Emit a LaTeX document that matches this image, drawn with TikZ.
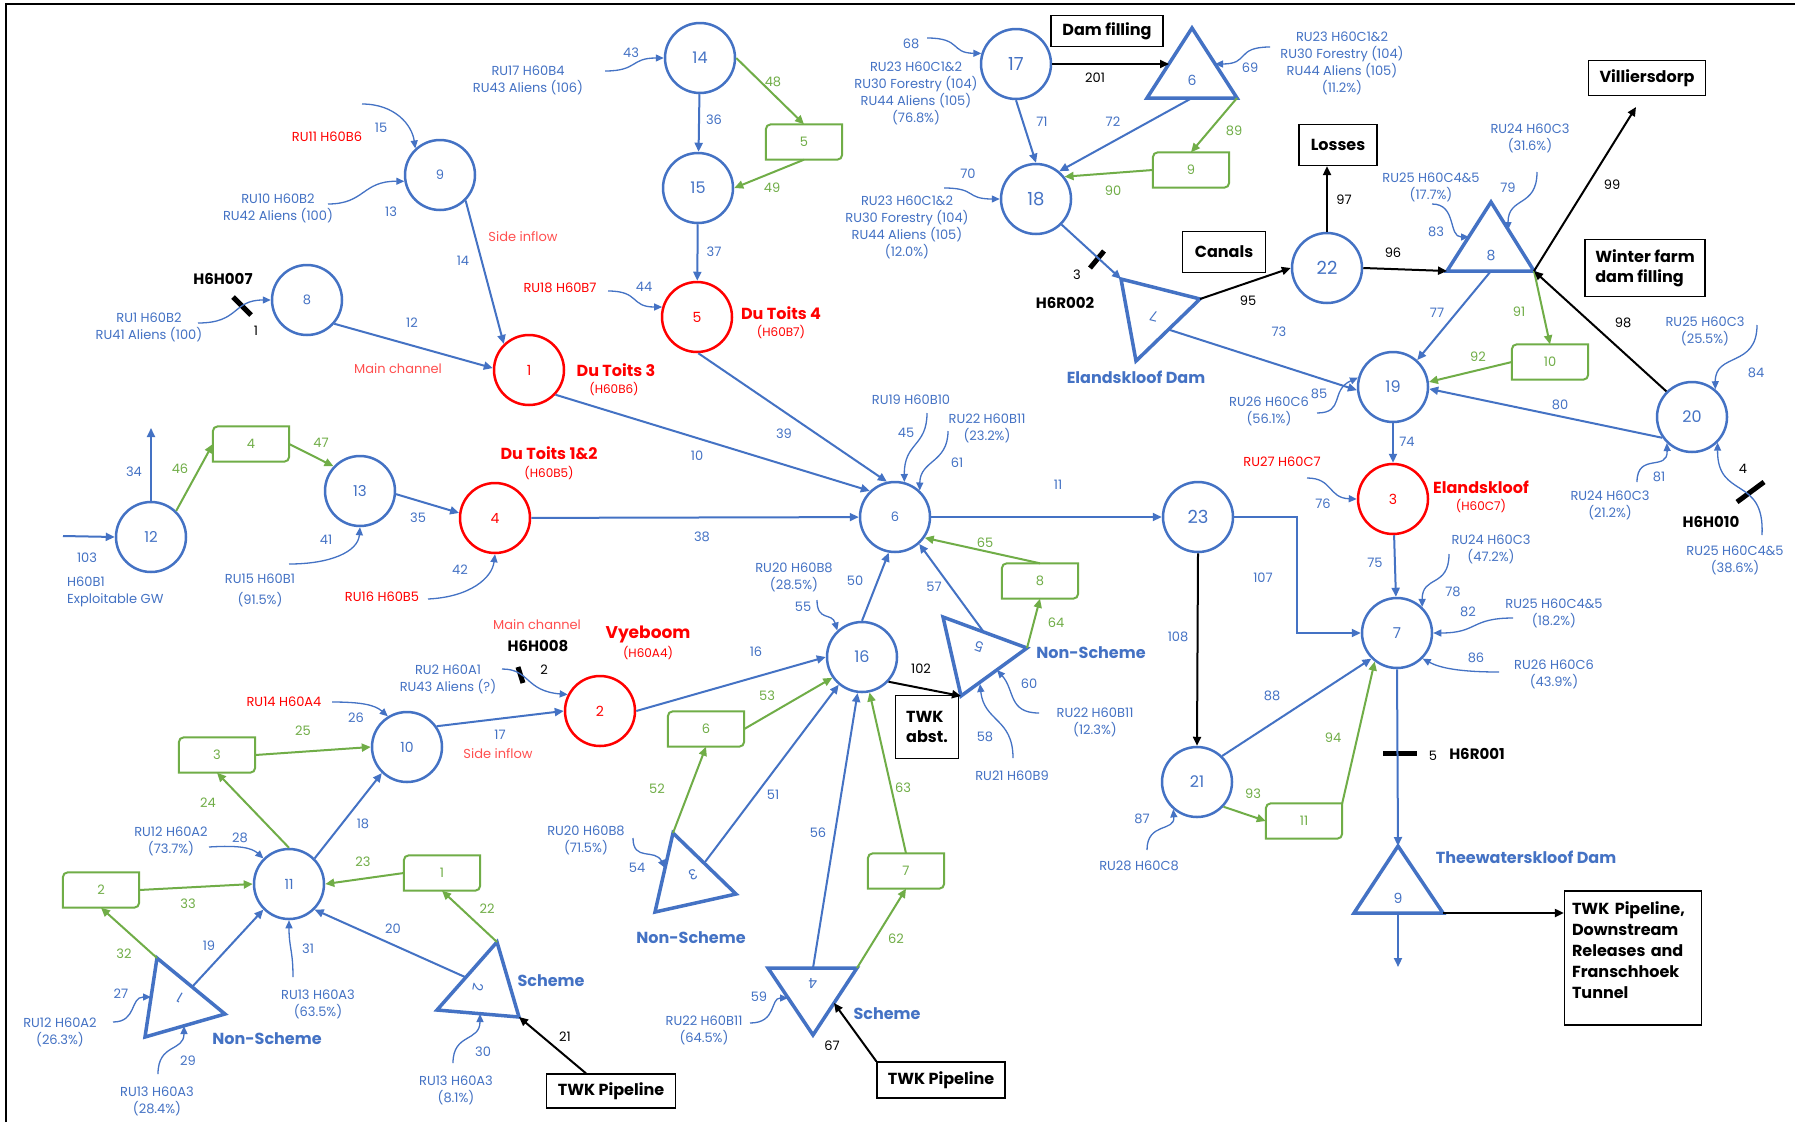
\documentclass[tikz,border=0pt]{standalone}
\usepackage{fontspec}
\setmainfont{Poppins}
\usetikzlibrary{arrows.meta,calc}
\definecolor{cb}{HTML}{4472C4}
\definecolor{cg}{HTML}{70AD47}
\definecolor{cr}{HTML}{FF0000}
\definecolor{crl}{HTML}{FF5050}
\newcommand{\gbox}[3]{%
  \node[gnode] (#1) at (#2) {#3};
  \draw[gline] (#1.west) [rounded corners=5pt] |- (#1.north) [sharp corners] -| (#1.east) [rounded corners=5pt] |- (#1.south) [sharp corners] -| (#1.west);
}
\tikzset{
  fsm/.style={font=\fontsize{13}{17}\selectfont},
  circ/.style={circle, draw=cb, line width=2.5pt, minimum size=70pt, inner sep=0pt, text=cb, font=\fontsize{16}{18}\selectfont},
  circs/.style={circ, font=\fontsize{13}{15}\selectfont},
  circr/.style={circ, draw=cr, text=cr, font=\fontsize{14}{16}\selectfont},
  gnode/.style={rectangle, minimum width=76pt, minimum height=35pt, inner sep=0pt, text=cg, font=\fontsize{13}{15}\selectfont},
  gline/.style={draw=cg, line width=2pt},
  tri/.style={draw=cb, line width=3.5pt, line join=miter},
  trl/.style={text=cb, font=\fontsize{14}{16}\selectfont, inner sep=0pt},
  atip/.style={-{Triangle[length=9pt,width=8pt]}},
  be/.style={atip, draw=cb, line width=2pt},
  ge/.style={atip, draw=cg, line width=2pt},
  ke/.style={atip, draw=black, line width=2pt},
  inf/.style={draw=cb, line width=1.3pt, -{Triangle[length=8pt,width=7pt]}},
  gauge/.style={draw=black, line width=5pt},
  lb/.style={text=cb, fsm, align=center, inner sep=0pt},
  lg/.style={text=cg, fsm, inner sep=0pt},
  lk/.style={text=black, fsm, inner sep=0pt},
  lr/.style={text=cr, fsm, align=center, inner sep=0pt},
  lc/.style={text=crl, font=\fontsize{13}{15}\selectfont, inner sep=0pt},
  nmr/.style={text=cr, font=\bfseries\fontsize{16}{18}\selectfont, inner sep=0pt},
  nms/.style={text=cr, font=\fontsize{12}{14}\selectfont, inner sep=0pt},
  nmb/.style={text=cb, font=\bfseries\fontsize{16}{18}\selectfont, inner sep=0pt},
  gname/.style={text=black, font=\bfseries\fontsize{15}{17}\selectfont, inner sep=0pt},
  kbox/.style={draw=black, line width=1.3pt, font=\bfseries\fontsize{16}{20}\selectfont, inner sep=0pt, align=left},
}
\begin{document}
\begin{tikzpicture}[x=1pt,y=-1pt]
\useasboundingbox (0,0) rectangle (1795,1122);
\fill[white] (0,0) rectangle (1795,1122);
\draw[line width=2.5pt] (6,1122) -- (6,4) -- (1795,4);

% ---------------- circles
\node[circs] (n9) at (440,175) {9};
\node[circs] (n8) at (307,300) {8};
\node[circr] (n1) at (529,370) {1};
\node[circ] (n14) at (700,58) {14};
\node[circ] (n15) at (698,188) {15};
\node[circr] (n5) at (697,317) {5};
\node[circ,font=\fontsize{18}{20}\selectfont] (n17) at (1016,64) {17};
\node[circ,font=\fontsize{18}{20}\selectfont] (n18) at (1036,199) {18};
\node[circ,font=\fontsize{18}{20}\selectfont] (n22) at (1327,268) {22};
\node[circ] (n19) at (1393,387) {19};
\node[circ] (n20) at (1692,417) {20};
\node[circr] (n3) at (1393,499) {3};
\node[circ,font=\fontsize{15}{17}\selectfont] (n7) at (1397,633) {7};
\node[circ,font=\fontsize{18}{20}\selectfont] (n23) at (1198,517) {23};
\node[circs] (n6) at (895,517) {6};
\node[circr] (n4) at (495,518) {4};
\node[circ,font=\fontsize{15}{17}\selectfont] (n13) at (360,491) {13};
\node[circ,font=\fontsize{15}{17}\selectfont] (n12) at (151,537) {12};
\node[circ] (n16) at (862,657) {16};
\node[circr] (n2) at (600,711) {2};
\node[circ,font=\fontsize{14}{16}\selectfont] (n10) at (407,747) {10};
\node[circ,font=\fontsize{14}{16}\selectfont] (n11) at (289,884) {11};
\node[circ] (n21) at (1197,782) {21};

% ---------------- triangles
\coordinate (t6a) at (1192,28); \coordinate (t6b) at (1147,98); \coordinate (t6c) at (1237,98);
\draw[tri] (t6a) -- (t6b) -- (t6c) -- cycle;
\node[trl] (t6) at (1192,80) {6};
\coordinate (t6m) at (1192,98); \coordinate (t6e) at (1169,64); \coordinate (t6r) at (1215,64);

\coordinate (t7a) at (1121,279); \coordinate (t7b) at (1200,299); \coordinate (t7c) at (1136,361);
\draw[tri] (t7a) -- (t7b) -- (t7c) -- cycle;
\node[trl,rotate=166] (t7) at (1154,316) {7};
\coordinate (t7o) at (1170,330);

\coordinate (t8a) at (1491,202); \coordinate (t8b) at (1447,271); \coordinate (t8c) at (1534,271);
\draw[tri] (t8a) -- (t8b) -- (t8c) -- cycle;
\node[trl] (t8) at (1491,255) {8};
\coordinate (t8m) at (1491,271); \coordinate (t8r) at (1508,230); \coordinate (t8l) at (1469,237);

\coordinate (t9a) at (1398,846); \coordinate (t9b) at (1354,913); \coordinate (t9c) at (1443,913);
\draw[tri] (t9a) -- (t9b) -- (t9c) -- cycle;
\node[trl] (t9) at (1398,898) {9};
\coordinate (t9m) at (1398,913);

\coordinate (t5a) at (943,617); \coordinate (t5b) at (1027,648); \coordinate (t5c) at (961,696);
\draw[tri] (t5a) -- (t5b) -- (t5c) -- cycle;
\node[trl,rotate=160] (t5) at (979,647) {5};
\coordinate (t5o) at (983,631); \coordinate (t5p) at (997,670); \coordinate (t5q) at (980,684);

\coordinate (t3a) at (673,833); \coordinate (t3b) at (736,894); \coordinate (t3c) at (655,912);
\draw[tri] (t3a) -- (t3b) -- (t3c) -- cycle;
\node[trl,rotate=200] (t3) at (693,875) {3};
\coordinate (t3o) at (705,862); \coordinate (t3p) at (665,868);

\coordinate (t4a) at (768,968); \coordinate (t4b) at (857,968); \coordinate (t4c) at (813,1035);
\draw[tri] (t4a) -- (t4b) -- (t4c) -- cycle;
\node[trl,rotate=180] (t4) at (813,983) {4};
\coordinate (t4m) at (813,968); \coordinate (t4e) at (834,1003); \coordinate (t4p) at (788,998);

\coordinate (t2a) at (497,942); \coordinate (t2b) at (519,1017); \coordinate (t2c) at (437,1010);
\draw[tri] (t2a) -- (t2b) -- (t2c) -- cycle;
\node[trl,rotate=-100] (t2) at (478,987) {2};
\coordinate (t2o) at (465,977); \coordinate (t2p) at (480,1014);

\coordinate (t1a) at (157,958); \coordinate (t1b) at (225,1014); \coordinate (t1c) at (145,1037);
\draw[tri] (t1a) -- (t1b) -- (t1c) -- cycle;
\node[trl,rotate=150] (t1) at (180,998) {1};
\coordinate (t1o) at (192,987); \coordinate (t1p) at (184,1026); \coordinate (t1q) at (151,997);

% ---------------- green boxes
\gbox{g5}{804,142}{5}
\gbox{g9}{1191,170}{9}
\gbox{g10}{1550,362}{10}
\gbox{g4}{251,444}{4}
\gbox{g8}{1040,581}{8}
\gbox{g6}{706,729}{6}
\gbox{g3}{217,755}{3}
\gbox{g2}{101,890}{2}
\gbox{g1}{442,873}{1}
\gbox{g7}{906,871}{7}
\gbox{g11}{1304,821}{11}

% ---------------- black boxes
\node[kbox, minimum width=112pt, minimum height=31pt] (dam) at (1107,31) {Dam filling};
\node[kbox, minimum width=83pt, minimum height=41pt] (canals) at (1224,252) {Canals};
\node[kbox, minimum width=78pt, minimum height=41pt] (loss) at (1338,145) {Losses};
\node[kbox, minimum width=117pt, minimum height=35pt] (vill) at (1647,78) {Villiersdorp};
\node[kbox, minimum width=120pt, minimum height=57pt] (winter) at (1645,268) {Winter farm\\dam filling};
\node[kbox, minimum width=63pt, minimum height=63pt] (twka) at (927,727) {TWK\\abst.};
\node[kbox, minimum width=129pt, minimum height=34pt] (twk1) at (611,1091) {TWK Pipeline};
\node[kbox, minimum width=128pt, minimum height=36pt] (twk2) at (941,1080) {TWK Pipeline};
\node[kbox, minimum width=137pt, minimum height=134pt, text width=122pt, font=\bfseries\fontsize{16}{21}\selectfont] (twkd) at (1633,958) {TWK Pipeline,\\Downstream\\Releases and\\Franschhoek\\Tunnel\\[-6pt]\mbox{}};

% ---------------- free ends
\coordinate (up34) at (151,428);
\coordinate (in103) at (63,536);
\coordinate (vtip) at (1636,107);
\coordinate (dn9) at (1398,967);
\coordinate (e107) at (1297,517);

% ---------------- gauges
\draw[gauge] (233,297) -- (251,315);
\draw[gauge] (518,667) -- (523,683);
\draw[gauge] (1090,268) -- (1104,251);
\draw[gauge] (1737,502) -- (1764,482);
\draw[gauge] (1383,753) -- (1417,753);

% ---------------- blue edges
\draw[be] (n9.-45) -- (n1.134);
\draw[be] (n8.-41) -- (n1.177);
\draw[be] (n14) -- (n15);
\draw[be] (n15) -- (n5);
\draw[be] (n5.-88) -- (n6.103);
\draw[be] (n1.-43) -- (n6.134);
\draw[be] (n4) -- (n6);
\draw[be] (n13.-5) -- (n4.172);
\draw[be] (n12.north) -- (up34);
\draw[be] (in103) -- (n12.west);
\draw[be] (n6) -- (n23);
\draw[be] (n16.north) -- (n6.-100);
\draw[be] (n2.east) -- (n16.west);
\draw[be] (n10.35) -- (n2.west);
\draw[be] (n11.45) -- (n10.-134);
\draw[be] (t1o) -- (n11.-135);
\draw[be] (t2o) -- (n11.-45);
\draw[be] (t3o) -- (n16.-130);
\draw[be] (t4m) -- (n16.-97);
\draw[be] (t5o) -- (n6.-48);
\draw[be] (n23.east) -- (e107) |- (n7.west);
\draw[be] (n21.46) -- (n7.-135);
\draw[be] (n7.south) -- (t9a);
\draw[be] (t9m) -- (dn9);
\draw[be] (n3) -- (n7);
\draw[be] (n19) -- (n3);
\draw[be] (n20.-145) -- (n19.-3);
\draw[be] (t8m) -- (n19.48);
\draw[be] (t7o) -- (n19.185);
\draw[be] (n18.-45) -- (t7a);
\draw[be] (n17.south) -- (n18.north);
\draw[be] (t6m) -- (n18.50);

% ---------------- green edges
\draw[ge] (n14.0) -- (g5.north);
\draw[ge] (g5.south) -- (n15.east);
\draw[ge] (n12.46) -- (g4.west);
\draw[ge] (g4.east) -- (n13.137);
\draw[ge] (g3.east) -- (n10.west);
\draw[ge] (n11.north) -- (g3.south);
\draw[ge] (g1.west) -- (n11.east);
\draw[ge] (g2.east) -- (n11.west);
\draw[ge] (t1a) -- (g2.south);
\draw[ge] (t2a) -- (g1.south);
\draw[ge] (t3a) -- (g6.south);
\draw[ge] (g6.east) -- (n16.-145);
\draw[ge] (t4b) -- (g7.south);
\draw[ge] (g7.north) -- (n16.-78);
\draw[ge] (t5b) -- (g8.south);
\draw[ge] (g8.north) -- (n6.-35);
\draw[ge] (t6c) -- (g9.north);
\draw[ge] (g9.west) -- (n18.38);
\draw[ge] (t8c) -- (g10.north);
\draw[ge] (g10.west) -- (n19.8);
\draw[ge] (n21.-43) -- (g11.west);
\draw[ge] (g11.north east) -- (n7.-128);

% ---------------- black edges
\draw[ke] (n17.east) -- (t6e);
\draw[ke] (n16.-43) -- (t5c);
\draw[ke] (n20.135) -- (t8c);
\draw[ke] (t8c) -- (vtip);
\draw[ke] (n22.east) -- (t8b);
\draw[ke] (n22.north) -- (n22.north |- loss.south);
\draw[ke] (t7b) -- (n22.west);
\draw[ke] ([xshift=-25pt]twk1.north) -- (t2b);
\draw[ke] (twk2.north west) -- (t4e);
\draw[ke] (n23.south) -- (n21.north);
\draw[ke] (t9c) -- (t9c -| twkd.west);

% ---------------- inflow texts
\node[lr] (r11) at (327,137) {RU11 H60B6};
\node[lb] (r10) at (278,208) {RU10 H60B2\\RU42 Aliens (100)};
\node[lb] (r1) at (149,327) {RU1 H60B2\\RU41 Aliens (100)};
\node[lb] (r17) at (528,80) {RU17 H60B4\\RU43 Aliens (106)};
\node[lr] (r18) at (560,288) {RU18 H60B7};
\node[lb] (r23a) at (916,93) {RU23 H60C1\&2\\RU30 Forestry (104)\\RU44 Aliens (105)\\(76.8\%)};
\node[lb] (r23b) at (907,227) {RU23 H60C1\&2\\RU30 Forestry (104)\\RU44 Aliens (105)\\(12.0\%)};
\node[lb] (r23c) at (1342,63) {RU23 H60C1\&2\\RU30 Forestry (104)\\RU44 Aliens (105)\\(11.2\%)};
\node[lb] (r24a) at (1530,138) {RU24 H60C3\\(31.6\%)};
\node[lb] (r25a) at (1431,187) {RU25 H60C4\&5\\(17.7\%)};
\node[lb] (r25b) at (1705,331) {RU25 H60C3\\(25.5\%)};
\node[lb] (r26a) at (1269,411) {RU26 H60C6\\(56.1\%)};
\node[lb] (r24b) at (1610,505) {RU24 H60C3\\(21.2\%)};
\node[lb] (r25c) at (1735,560) {RU25 H60C4\&5\\(38.6\%)};
\node[lr] (r27) at (1282,462) {RU27 H60C7};
\node[lb] (r24c) at (1491,549) {RU24 H60C3\\(47.2\%)};
\node[lb] (r25d) at (1554,613) {RU25 H60C4\&5\\(18.2\%)};
\node[lb] (r26b) at (1554,674) {RU26 H60C6\\(43.9\%)};
\node[lb] (r28) at (1139,866) {RU28 H60C8};
\node[lb] (r19) at (911,400) {RU19 H60B10};
\node[lb] (r22a) at (987,428) {RU22 H60B11\\(23.2\%)};
\node[lb] (r20a) at (794,577) {RU20 H60B8\\(28.5\%)};
\node[lb] (r22b) at (1095,722) {RU22 H60B11\\(12.3\%)};
\node[lb] (r21) at (1012,776) {RU21 H60B9};
\node[lb] (r20b) at (586,840) {RU20 H60B8\\(71.5\%)};
\node[lb] (r22c) at (704,1030) {RU22 H60B11\\(64.5\%)};
\node[lb] (r15) at (260,590) {RU15 H60B1\\[4pt](91.5\%)};
\node[lr] (r16) at (382,597) {RU16 H60B5};
\node[lb] (r2) at (448,679) {RU2 H60A1\\RU43 Aliens (?)};
\node[lr] (r14) at (284,702) {RU14 H60A4};
\node[lb] (r12a) at (171,841) {RU12 H60A2\\(73.7\%)};
\node[lb] (r13a) at (318,1004) {RU13 H60A3\\(63.5\%)};
\node[lb] (r12b) at (60,1032) {RU12 H60A2\\(26.3\%)};
\node[lb] (r13b) at (157,1101) {RU13 H60A3\\(28.4\%)};
\node[lb] (r13c) at (456,1090) {RU13 H60A3\\(8.1\%)};
\node[lb, anchor=west, align=left] (gw) at (67,592) {H60B1\\Exploitable GW};

% ---------------- inflow curves
\coordinate (s15) at (362,104);
\coordinate (s13) at (328,204);
\coordinate (s1) at (198,323);
\coordinate (s43) at (605,71);
\coordinate (s44) at (608,291);
\coordinate (s68) at (927,38);
\coordinate (s70) at (944,188);
\coordinate (s69) at (1270,47);
\coordinate (s79) at (1537,172);
\coordinate (s83) at (1432,204);
\coordinate (s85) at (1317,413);
\coordinate (s84) at (1757,325);
\coordinate (s81) at (1637,482);
\coordinate (s4) at (1762,535);
\coordinate (s78) at (1449,554);
\coordinate (s82) at (1513,618);
\coordinate (s86) at (1499,672);
\coordinate (s76) at (1307,478);
\coordinate (s87) at (1147,850);
\coordinate (s60) at (1039,713);
\coordinate (s58) at (1013,758);
\coordinate (s45) at (927,413);
\coordinate (s61) at (948,431);
\coordinate (s55) at (817,600);
\coordinate (s54) at (633,838);
\coordinate (s59) at (750,1023);
\coordinate (s30) at (453,1063);
\coordinate (s29) at (158,1074);
\coordinate (s27) at (113,1022);
\coordinate (s28) at (209,847);
\coordinate (s31) at (293,977);
\coordinate (s26) at (332,702);
\coordinate (s2) at (502,669);
\coordinate (s41) at (289,564);
\coordinate (s42) at (428,599);

\draw[inf] (s15) .. controls (395,104) and (412,125) .. (n9.133);
\draw[inf] (s13) .. controls (365,204) and (362,181) .. (n9.190);
\draw[inf] (s1) .. controls (240,323) and (232,300) .. (n8.west);
\draw[inf] (s43) .. controls (638,71) and (630,58) .. (n14.west);
\draw[inf] (s44) .. controls (640,291) and (630,307) .. (n5.164);
\draw[inf] (s68) .. controls (962,38) and (950,53) .. (n17.163);
\draw[inf] (s70) .. controls (977,188) and (965,199) .. (n18.west);
\draw[inf] (s69) .. controls (1235,47) and (1250,64) .. (t6r);
\draw[inf] (s79) .. controls (1537,208) and (1508,196) .. (t8r);
\draw[inf] (s83) .. controls (1457,204) and (1448,237) .. (t8l);
\draw[inf] (s85) .. controls (1345,413) and (1330,390) .. (n19.165);
\draw[inf] (s84) .. controls (1757,368) and (1715,352) .. (n20.50);
\draw[inf] (s81) .. controls (1637,452) and (1668,472) .. (n20.-134);
\draw[inf] (s4) .. controls (1765,475) and (1717,500) .. (n20.-45);
\draw[inf] (s78) .. controls (1449,588) and (1422,575) .. (n7.46);
\draw[inf] (s82) .. controls (1470,618) and (1478,633) .. (n7.east);
\draw[inf] (s86) .. controls (1460,672) and (1440,668) .. (n7.-45);
\draw[inf] (s76) .. controls (1333,478) and (1328,498) .. (n3.west);
\draw[inf] (s87) .. controls (1147,822) and (1175,832) .. (n21.-131);
\draw[inf] (s60) .. controls (1008,713) and (1015,690) .. (t5p);
\draw[inf] (s58) .. controls (1013,718) and (984,722) .. (t5q);
\draw[inf] (s45) .. controls (927,447) and (904,442) .. (n6.75);
\draw[inf] (s61) .. controls (948,463) and (920,460) .. (n6.47);
\draw[inf] (s55) .. controls (817,622) and (832,612) .. (n16.133);
\draw[inf] (s54) .. controls (633,862) and (655,848) .. (t3p);
\draw[inf] (s59) .. controls (777,1023) and (770,998) .. (t4p);
\draw[inf] (s30) .. controls (453,1033) and (480,1042) .. (t2p);
\draw[inf] (s29) .. controls (158,1043) and (184,1052) .. (t1p);
\draw[inf] (s27) .. controls (137,1022) and (130,997) .. (t1q);
\draw[inf] (s28) .. controls (240,845) and (252,848) .. (n11.135);
\draw[inf] (s31) .. controls (293,950) and (289,948) .. (n11.south);
\draw[inf] (s26) .. controls (362,702) and (375,705) .. (n10.122);
\draw[inf] (s2) .. controls (530,669) and (525,691) .. (n2.153);
\draw[inf] (s41) .. controls (330,564) and (358,552) .. (n13.south);
\draw[inf] (s42) .. controls (470,597) and (492,578) .. (n4.south);

% ---------------- edge numbers (blue)
\node[lb] (e14) at (463,261) {14};
\node[lb] (e12) at (412,323) {12};
\node[lb] (e36) at (714,120) {36};
\node[lb] (e37) at (714,252) {37};
\node[lb] (e39) at (784,434) {39};
\node[lb] (e10) at (697,456) {10};
\node[lb] (e38) at (702,537) {38};
\node[lb] (e35) at (418,518) {35};
\node[lb] (e34) at (134,472) {34};
\node[lb] (e103) at (87,558) {103};
\node[lb] (e41) at (326,540) {41};
\node[lb] (e42) at (460,570) {42};
\node[lb] (e43) at (631,53) {43};
\node[lb] (e44) at (644,287) {44};
\node[lb] (e15) at (381,128) {15};
\node[lb] (e13) at (391,212) {13};
\node[lb] (e11) at (1058,485) {11};
\node[lb] (e50) at (855,581) {50};
\node[lb] (e16) at (756,652) {16};
\node[lb] (e17) at (500,735) {17};
\node[lb] (e18) at (363,824) {18};
\node[lb] (e19) at (209,946) {19};
\node[lb] (e20) at (393,929) {20};
\node[lb] (e26) at (356,718) {26};
\node[lb] (e28) at (240,838) {28};
\node[lb] (e31) at (308,949) {31};
\node[lb] (e27) at (121,994) {27};
\node[lb] (e29) at (188,1061) {29};
\node[lb] (e30) at (483,1052) {30};
\node[lb] (e51) at (773,795) {51};
\node[lb] (e54) at (637,868) {54};
\node[lb] (e56) at (818,833) {56};
\node[lb] (e59) at (759,997) {59};
\node[lb] (e55) at (803,607) {55};
\node[lb] (e57) at (934,587) {57};
\node[lb] (e60) at (1029,684) {60};
\node[lb] (e58) at (985,737) {58};
\node[lb] (e45) at (906,433) {45};
\node[lb] (e61) at (957,463) {61};
\node[lb] (e107) at (1263,578) {107};
\node[lb] (e108) at (1178,637) {108};
\node[lb] (e88) at (1272,696) {88};
\node[lb] (e87) at (1142,819) {87};
\node[lb] (e75) at (1375,563) {75};
\node[lb] (e74) at (1407,442) {74};
\node[lb] (e76) at (1323,504) {76};
\node[lb] (e78) at (1453,592) {78};
\node[lb] (e82) at (1468,612) {82};
\node[lb] (e86) at (1476,658) {86};
\node[lb] (e80) at (1560,405) {80};
\node[lb] (e77) at (1437,313) {77};
\node[lb] (e79) at (1508,188) {79};
\node[lb] (e83) at (1436,232) {83};
\node[lb] (e84) at (1756,373) {84};
\node[lb] (e81) at (1659,477) {81};
\node[lb] (e85) at (1319,394) {85};
\node[lb] (e73) at (1279,332) {73};
\node[lb] (e71) at (1042,122) {71};
\node[lb] (e72) at (1113,122) {72};
\node[lb] (e68) at (911,44) {68};
\node[lb] (e70) at (968,174) {70};
\node[lb] (e69) at (1250,68) {69};

% ---------------- edge numbers (green)
\node[lg] (e48) at (773,82) {48};
\node[lg] (e49) at (772,188) {49};
\node[lg] (e46) at (180,469) {46};
\node[lg] (e47) at (321,443) {47};
\node[lg] (e25) at (303,731) {25};
\node[lg] (e24) at (208,803) {24};
\node[lg] (e23) at (363,862) {23};
\node[lg] (e33) at (188,904) {33};
\node[lg] (e32) at (124,954) {32};
\node[lg] (e22) at (487,909) {22};
\node[lg] (e52) at (657,789) {52};
\node[lg] (e53) at (767,696) {53};
\node[lg] (e62) at (896,939) {62};
\node[lg] (e63) at (903,788) {63};
\node[lg] (e64) at (1056,623) {64};
\node[lg] (e65) at (985,543) {65};
\node[lg] (e89) at (1234,131) {89};
\node[lg] (e90) at (1113,191) {90};
\node[lg] (e91) at (1519,312) {91};
\node[lg] (e92) at (1478,357) {92};
\node[lg] (e93) at (1253,794) {93};
\node[lg] (e94) at (1333,738) {94};

% ---------------- edge numbers (black)
\node[lk] (e201) at (1095,78) {201};
\node[lk] (e102) at (921,669) {102};
\node[lk] (e98) at (1623,323) {98};
\node[lk] (e99) at (1612,185) {99};
\node[lk] (e96) at (1393,253) {96};
\node[lk] (e97) at (1344,200) {97};
\node[lk] (e95) at (1248,301) {95};
\node[lk] (e21) at (565,1037) {21};
\node[lk] (e67) at (832,1046) {67};
\node[lk] (q1) at (256,331) {1};
\node[lk] (q2) at (544,670) {2};
\node[lk] (q3) at (1077,275) {3};
\node[lk] (q4) at (1743,469) {4};
\node[lk] (q5) at (1433,756) {5};

% ---------------- gauge names
\node[gname] (h007) at (223,279) {H6H007};
\node[gname] (h002) at (1065,303) {H6R002};
\node[gname] (h008) at (538,646) {H6H008};
\node[gname] (h010) at (1711,522) {H6H010};
\node[gname] (h001) at (1477,754) {H6R001};

% ---------------- channel notes
\node[lc] (mc1) at (398,369) {Main channel};
\node[lc] (si1) at (523,237) {Side inflow};
\node[lc] (mc2) at (537,625) {Main channel};
\node[lc] (si2) at (498,754) {Side inflow};

% ---------------- names
\node[nmr] (dt4) at (781,313) {Du Toits 4};
\node[nms] (dt4b) at (781,332) {(H60B7)};
\node[nmr] (dt3) at (616,370) {Du Toits 3};
\node[nms] (dt3b) at (614,389) {(H60B6)};
\node[nmr] (dt12) at (549,453) {Du Toits 1\&2};
\node[nms] (dt12b) at (549,473) {(H60B5)};
\node[nmr,font=\bfseries\fontsize{17}{19}\selectfont] (vye) at (648,634) {Vyeboom};
\node[nms] (vyeb) at (648,653) {(H60A4)};
\node[nmr] (elk) at (1481,487) {Elandskloof};
\node[nms] (elkb) at (1481,506) {(H60C7)};
\node[nmb] (elkd) at (1136,377) {Elandskloof Dam};
\node[nmb] (ns5) at (1091,653) {Non-Scheme};
\node[nmb] (ns3) at (691,938) {Non-Scheme};
\node[nmb] (ns1) at (267,1039) {Non-Scheme};
\node[nmb] (sc2) at (551,981) {Scheme};
\node[nmb] (sc4) at (887,1014) {Scheme};
\node[nmb] (twd) at (1526,857) {Theewaterskloof Dam};
\end{tikzpicture}
\end{document}
